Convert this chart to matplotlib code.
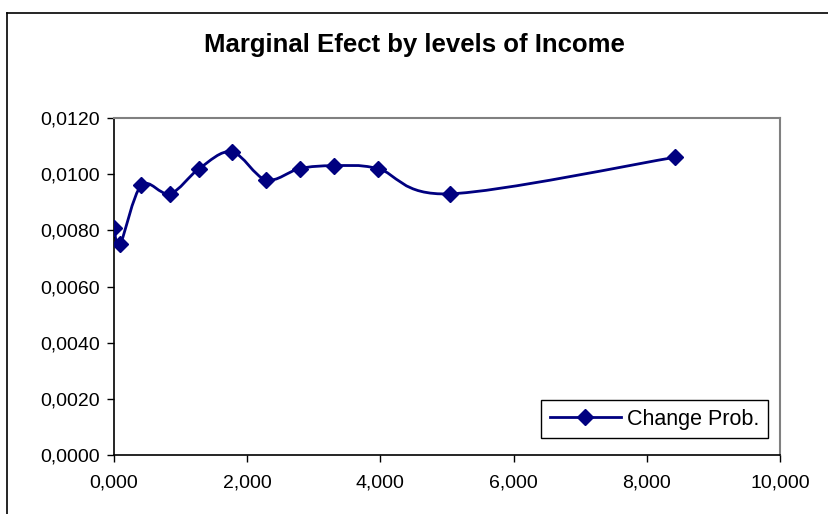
import numpy as np
import matplotlib.pyplot as plt
from matplotlib.path import Path
from matplotlib.patches import PathPatch
from matplotlib.lines import Line2D
from matplotlib.ticker import FuncFormatter

# dados
income = [0.0, 0.09, 0.41, 0.84, 1.28, 1.77, 2.28, 2.79, 3.30, 3.96, 5.05, 8.42]
change_prob = [0.0081, 0.0075, 0.0096, 0.0093, 0.0102, 0.0108, 0.0098,
               0.0102, 0.0103, 0.0102, 0.0093, 0.0106]
x_ticks = [0, 2, 4, 6, 8, 10]
y_ticks = [0, 0.002, 0.004, 0.006, 0.008, 0.010, 0.012]

cor = '#000080'
plt.rcParams['font.family'] = ['Liberation Sans', 'DejaVu Sans']

fig = plt.figure(figsize=(8.29, 5.14), dpi=100)
ax = fig.add_axes([114/829, 59/514, 666/829, 337/514])

# linha suavizada (bezier tipo excel)
x = np.array(income)
y = np.array(change_prob)
n = len(x)
verts = [(x[0], y[0])]
codes = [Path.MOVETO]
for i in range(n - 1):
    p0 = np.array([x[max(i-1, 0)], y[max(i-1, 0)]])
    p1 = np.array([x[i], y[i]])
    p2 = np.array([x[i+1], y[i+1]])
    p3 = np.array([x[min(i+2, n-1)], y[min(i+2, n-1)]])
    c1 = p1 + (p2 - p0) / 6
    c2 = p2 - (p3 - p1) / 6
    verts += [tuple(c1), tuple(c2), tuple(p2)]
    codes += [Path.CURVE4] * 3
ax.add_patch(PathPatch(Path(verts, codes), facecolor='none', edgecolor=cor, lw=2, zorder=2))
ax.plot(income, change_prob, ls='none', marker='D', ms=8, color=cor, zorder=3)

leg_handle = Line2D([], [], color=cor, lw=2, marker='D', ms=8)
leg = ax.legend([leg_handle], ['Change Prob.'], loc='lower right',
                bbox_to_anchor=(0.982, 0.05), borderaxespad=0, fancybox=False,
                framealpha=1, edgecolor='black', fontsize=15.5, handlelength=3.3,
                handletextpad=0.3, borderpad=0.4)
leg.get_frame().set_linewidth(1)

ax.set_xlim(0, 10)
ax.set_ylim(0, 0.012)
ax.set_xticks(x_ticks)
ax.set_yticks(y_ticks)
ax.xaxis.set_major_formatter(FuncFormatter(lambda v, p: ('%.3f' % v).replace('.', ',')))
ax.yaxis.set_major_formatter(FuncFormatter(lambda v, p: ('%.4f' % v).replace('.', ',')))
ax.tick_params(direction='out', length=5, width=1, labelsize=14, pad=5)
ax.tick_params(axis='x', pad=9)
for s in ['top', 'right']:
    ax.spines[s].set_color('gray')
    ax.spines[s].set_linewidth(1.5)
for s in ['left', 'bottom']:
    ax.spines[s].set_color('black')
    ax.spines[s].set_linewidth(1.2)

fig.text(0.5, 1 - 45/514, 'Marginal Efect by levels of Income', ha='center', va='center',
         fontsize=18.5, fontweight='bold')

# borda do grafico
fig.add_artist(Line2D([7/829, 1], [1 - 13/514, 1 - 13/514], color='black', lw=1.2))
fig.add_artist(Line2D([7/829, 7/829], [0, 1 - 13/514], color='black', lw=1.2))

plt.savefig('out.png', dpi=100)
